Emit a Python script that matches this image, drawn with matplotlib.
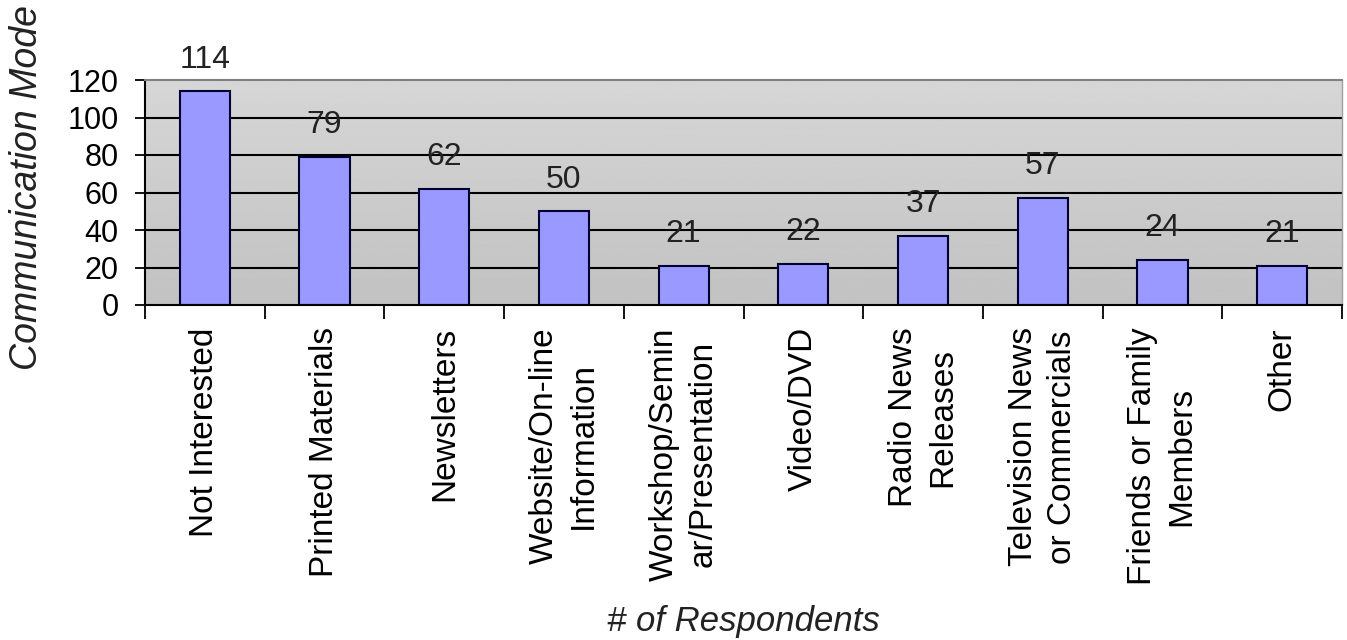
import numpy as np
import matplotlib
matplotlib.use("Agg")
import matplotlib.pyplot as plt

categories = [
    "Not Interested",
    "Printed Materials",
    "Newsletters",
    "Website/On-line\nInformation",
    "Workshop/Semin\nar/Presentation",
    "Video/DVD",
    "Radio News\nReleases",
    "Television News\nor Commercials",
    "Friends or Family\nMembers",
    "Other",
]
counts = [114, 79, 62, 50, 21, 22, 37, 57, 24, 21]
y_ticks = [0, 20, 40, 60, 80, 100, 120]

plt.rcParams["font.family"] = ["Liberation Sans", "DejaVu Sans"]

fig = plt.figure(figsize=(13.47, 6.40), dpi=100)
ax = fig.add_axes([145 / 1347, 1 - 305 / 640, (1342 - 145) / 1347, (305 - 80) / 640])

# gray plot area, a bit lighter at the top
grad = np.linspace(0.84, 0.76, 100).reshape(-1, 1)
ax.imshow(grad, cmap="gray", vmin=0, vmax=1, aspect="auto",
          extent=[-0.5, 9.5, 0, 120], origin="upper", zorder=0)

x = np.arange(len(categories))
for yv in y_ticks[1:-1]:
    ax.axhline(yv, color="black", linewidth=1.5, zorder=1)

bars = ax.bar(x, counts, width=0.42, color="#9999FF", edgecolor="#000033",
              linewidth=1.5, zorder=2)

for xi, v in zip(x, counts):
    ax.annotate(str(v), (xi, v), xytext=(0, 12), textcoords="offset points",
                ha="center", va="bottom", fontsize=23, color="#222222")

ax.set_xlim(-0.5, 9.5)
ax.set_ylim(0, 120)
ax.set_yticks(y_ticks)
ax.tick_params(axis="y", direction="out", length=7, width=1.3, labelsize=22, pad=12)

ax.set_xticks(x)
ax.set_xticklabels(categories, rotation=90, fontsize=24, ha="center", va="top",
                   multialignment="center", linespacing=1.35)
ax.tick_params(axis="x", which="major", length=0, pad=16)
ax.set_xticks(np.arange(-0.5, 10, 1), minor=True)
ax.tick_params(axis="x", which="minor", direction="out", length=10, width=1.3)

for side in ["left", "bottom"]:
    ax.spines[side].set_color("black")
    ax.spines[side].set_linewidth(1.5)
ax.spines["top"].set_color("#808080")
ax.spines["top"].set_linewidth(1.5)
ax.spines["right"].set_color("#A0A0A0")
ax.spines["right"].set_linewidth(1.0)

fig.text(27 / 1347, 1 - 188 / 640, "Communication Mode", rotation=90,
         ha="center", va="center", fontsize=27, style="italic", color="#222222")
fig.text(743 / 1347, 1 - 622 / 640, "# of Respondents",
         ha="center", va="center", fontsize=25, style="italic", color="#222222")

fig.savefig("out.png", dpi=100, facecolor="white")
